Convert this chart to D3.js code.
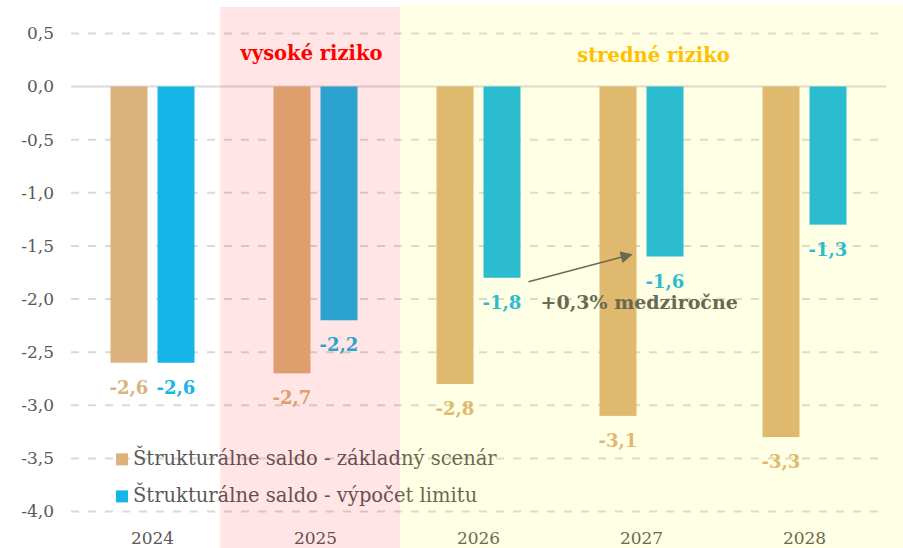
<!DOCTYPE html>
<html>
<head>
<meta charset="utf-8">
<script src="https://cdn.jsdelivr.net/npm/d3@7"></script>
<style>
  body { margin: 0; background: #fff; }
  svg text { font-family: "DejaVu Serif", "Liberation Serif", serif; }
</style>
</head>
<body>
<div id="chart-container"></div>
<script>
const years = ["2024", "2025", "2026", "2027", "2028"];
const baseScenario = [-2.6, -2.7, -2.8, -3.1, -3.3];
const limitCalc = [-2.6, -2.2, -1.8, -1.6, -1.3];
const seriesNames = ["Štrukturálne saldo - základný scenár", "Štrukturálne saldo - výpočet limitu"];
const yTicks = [0.5, 0, -0.5, -1, -1.5, -2, -2.5, -3, -3.5, -4];
const riskZones = [
  { label: "vysoké riziko", from: "2025", to: "2025", fill: "rgba(255,0,0,0.1)", color: "#ff0000" },
  { label: "stredné riziko", from: "2026", to: "2028", fill: "rgba(255,255,0,0.1)", color: "#ffc000" },
];
const annotationText = "+0,3% medziročne";

function barChart() {
  const width = 903;
  const height = 548;
  const margin = { top: 33.4, right: 17, bottom: 36.5, left: 71 };
  const colors = ["#dbb27b", "#15b5e8"];
  const grey = "#595959";
  const fmt = (v) => d3.format(".1f")(v).replace(".", ",").replace("−", "-");

  const svg = d3
    .select("#chart-container")
    .append("svg")
    .attr("width", width)
    .attr("height", height);

  const x = d3
    .scaleBand()
    .domain(years)
    .range([margin.left, width - margin.right]);
  const x1 = d3
    .scaleBand()
    .domain([0, 1])
    .range([x.bandwidth() / 2 - 42, x.bandwidth() / 2 + 42])
    .paddingInner(0.213);
  const y = d3
    .scaleLinear()
    .domain([0.5, -4])
    .range([margin.top, height - margin.bottom]);

  // grid
  svg
    .append("g")
    .selectAll("line")
    .data(yTicks.filter((d) => d !== 0))
    .join("line")
    .attr("x1", margin.left)
    .attr("x2", width - margin.right)
    .attr("y1", (d) => y(d))
    .attr("y2", (d) => y(d))
    .attr("stroke", "#d9d9d9")
    .attr("stroke-width", 2)
    .attr("stroke-dasharray", "8,9");

  svg
    .append("line")
    .attr("x1", margin.left)
    .attr("x2", width - margin.right)
    .attr("y1", y(0))
    .attr("y2", y(0))
    .attr("stroke", "#d9d9d9")
    .attr("stroke-width", 2);

  // y axis labels
  const yAxis = svg
    .append("g")
    .attr("transform", `translate(${margin.left - 14},0)`)
    .call(d3.axisLeft(y).tickValues(yTicks).tickFormat(fmt).tickSize(0));
  yAxis.select(".domain").remove();
  yAxis
    .selectAll("text")
    .attr("fill", grey)
    .style("font-size", "17px")
    .style("font-family", "DejaVu Serif, serif");

  // x axis labels
  const xAxis = svg
    .append("g")
    .attr("transform", `translate(0,${height - 10})`)
    .call(d3.axisBottom(x).tickSize(0));
  xAxis.select(".domain").remove();
  xAxis
    .selectAll("text")
    .attr("dy", "0.35em")
    .attr("y", 0)
    .attr("fill", grey)
    .style("font-size", "17px")
    .style("font-family", "DejaVu Serif, serif");

  const series = [baseScenario, limitCalc];

  series.forEach((vals, si) => {
    const g = svg.append("g");
    g.selectAll("rect")
      .data(vals)
      .join("rect")
      .attr("x", (d, i) => x(years[i]) + x1(si))
      .attr("width", x1.bandwidth())
      .attr("y", y(0))
      .attr("height", (d) => y(d) - y(0))
      .attr("fill", colors[si]);
    g.selectAll("text")
      .data(vals)
      .join("text")
      .attr("x", (d, i) => x(years[i]) + x1(si) + x1.bandwidth() / 2)
      .attr("y", (d) => y(d) + 26)
      .attr("text-anchor", "middle")
      .attr("dominant-baseline", "middle")
      .attr("fill", colors[si])
      .style("font-size", "18px")
      .style("font-weight", "bold")
      .text((d) => fmt(d));
  });

  // legend
  const legend = svg
    .append("g")
    .attr("transform", `translate(${margin.left + 45},0)`);
  seriesNames.forEach((name, i) => {
    const row = legend
      .append("g")
      .attr("transform", `translate(0,${y(-3.5) + 1 + i * 37})`);
    row
      .append("rect")
      .attr("x", 0)
      .attr("y", -6)
      .attr("width", 12)
      .attr("height", 12)
      .attr("fill", colors[i]);
    row
      .append("text")
      .attr("x", 17)
      .attr("y", 0)
      .attr("dominant-baseline", "middle")
      .attr("fill", grey)
      .style("font-size", "19.5px")
      .text(name);
  });

  // annotation arrow
  svg
    .append("defs")
    .append("marker")
    .attr("id", "arrow")
    .attr("viewBox", "0 0 10 10")
    .attr("refX", 9)
    .attr("refY", 5)
    .attr("markerWidth", 9)
    .attr("markerHeight", 8)
    .attr("orient", "auto")
    .append("path")
    .attr("d", "M0,0 L10,5 L0,10 z")
    .attr("fill", grey);

  const ax0 = x("2026") + x1(1) + x1.bandwidth() + 8;
  const ax1 = x("2027") + x1(0) + x1.bandwidth() - 5;
  svg
    .append("line")
    .attr("x1", ax0)
    .attr("y1", y(-1.81) + 3)
    .attr("x2", ax1)
    .attr("y2", y(-1.6) - 2)
    .attr("stroke", grey)
    .attr("stroke-width", 1.5)
    .attr("marker-end", "url(#arrow)");

  svg
    .append("text")
    .attr("x", ax0 + 12)
    .attr("y", y(-2.05))
    .attr("dominant-baseline", "middle")
    .attr("fill", grey)
    .style("font-size", "19px")
    .style("font-weight", "bold")
    .text(annotationText);

  // risk zone shading on top of everything
  const step = x.step();
  riskZones.forEach((z, i) => {
    const x0 = i === 0 ? x(z.from) - step * 0.085 : x(z.from) + 3;
    const xEnd = i === 0 ? x(z.to) + step + 3 : width;
    svg
      .append("rect")
      .attr("x", x0)
      .attr("y", i === 0 ? 7 : 5)
      .attr("width", xEnd - x0)
      .attr("height", height)
      .attr("fill", z.fill);
    svg
      .append("text")
      .attr("x", i === 0 ? x(z.from) + x.bandwidth() / 2 - 4 : (x(z.from) + x(z.to) + step) / 2 + 12)
      .attr("y", y(0.3) + (i === 0 ? 0 : 2))
      .attr("text-anchor", "middle")
      .attr("dominant-baseline", "middle")
      .attr("fill", z.color)
      .style("font-size", "19.5px")
      .style("font-weight", "bold")
      .text(z.label);
  });
}

barChart();
</script>
</body>
</html>
